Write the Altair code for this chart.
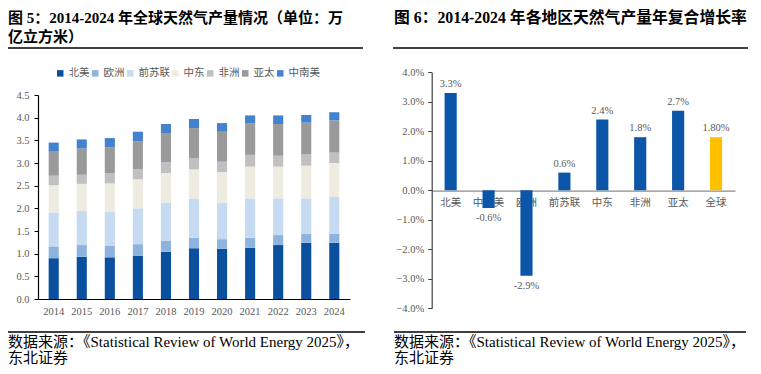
import altair as alt
import pandas as pd

# ---------------- data ----------------
years = ["2014", "2015", "2016", "2017", "2018", "2019", "2020", "2021", "2022", "2023", "2024"]
regions = ["北美", "欧洲", "前苏联", "中东", "非洲", "亚太", "中南美"]
north_america = [0.90, 0.93, 0.92, 0.95, 1.04, 1.12, 1.11, 1.13, 1.19, 1.24, 1.24]
europe = [0.26, 0.26, 0.26, 0.26, 0.25, 0.23, 0.21, 0.22, 0.22, 0.20, 0.20]
cis = [0.75, 0.75, 0.75, 0.79, 0.84, 0.86, 0.81, 0.87, 0.81, 0.78, 0.81]
middle_east = [0.60, 0.60, 0.62, 0.64, 0.65, 0.65, 0.67, 0.70, 0.70, 0.72, 0.75]
africa = [0.21, 0.20, 0.22, 0.22, 0.24, 0.25, 0.23, 0.26, 0.24, 0.25, 0.23]
asia_pacific = [0.53, 0.58, 0.58, 0.62, 0.64, 0.66, 0.66, 0.69, 0.70, 0.70, 0.71]
latin_america = [0.20, 0.20, 0.20, 0.21, 0.20, 0.20, 0.19, 0.18, 0.19, 0.17, 0.18]
region_colors = ["#0b4f9f", "#8fb3df", "#c6daf1", "#eeece1", "#c0c0c0", "#9a9a9a", "#4282cf"]
y_ticks_left = [0, 0.5, 1.0, 1.5, 2.0, 2.5, 3.0, 3.5, 4.0, 4.5]

cagr_regions = ["北美", "中南美", "欧洲", "前苏联", "中东", "非洲", "亚太", "全球"]
cagr_values = [3.3, -0.6, -2.9, 0.6, 2.4, 1.8, 2.7, 1.8]
cagr_labels = ["3.3%", "-0.6%", "-2.9%", "0.6%", "2.4%", "1.8%", "2.7%", "1.80%"]
y_ticks_right = [-4, -3, -2, -1, 0, 1, 2, 3, 4]

title_left_1 = "图 5：2014-2024 年全球天然气产量情况（单位：万"
title_left_2 = "亿立方米）"
title_right = "图 6：2014-2024 年各地区天然气产量年复合增长率"
source_1 = "数据来源：《Statistical Review of World Energy 2025》，"
source_2 = "东北证券"

# ---------------- tables ----------------
series = [north_america, europe, cis, middle_east, africa, asia_pacific, latin_america]
rows = []
for i, (reg, vals) in enumerate(zip(regions, series)):
    for y, v in zip(years, vals):
        rows.append({"year": y, "region": reg, "idx": i, "value": v})
df_left = pd.DataFrame(rows)
df_right = pd.DataFrame({"region": cagr_regions, "value": cagr_values, "label": cagr_labels})

SERIF = "'Liberation Serif', 'Noto Sans CJK SC'"
CJK = "'Noto Sans CJK SC'"
GRAY = "#595959"

# ---------------- left panel ----------------
left = alt.Chart(df_left).mark_bar().encode(
    x=alt.X("year:N", sort=years,
            scale=alt.Scale(range=[30, 342], paddingInner=0.64, paddingOuter=0.38),
            axis=alt.Axis(orient="bottom", offset=-67, title=None, labelAngle=0, ticks=False,
                          domainColor="black", domainWidth=1.2, labelFont=SERIF, labelFontSize=10.5,
                          labelColor=GRAY, labelPadding=7)),
    y=alt.Y("value:Q", stack="zero",
            scale=alt.Scale(domain=[0, 4.5], range=[291, 87], nice=False, zero=True),
            axis=alt.Axis(orient="left", offset=-30, title=None, values=y_ticks_left, format=".1f",
                          grid=False, tickSize=4, tickColor="black", domainColor="black",
                          domainWidth=1.2, labelFont=SERIF, labelFontSize=10.5, labelColor=GRAY,
                          labelPadding=5)),
    color=alt.Color("region:N", sort=regions,
                    scale=alt.Scale(domain=regions, range=region_colors),
                    legend=alt.Legend(orient="none", legendX=47, legendY=60, direction="horizontal",
                                      title=None, symbolType="square", symbolSize=42,
                                      symbolStrokeWidth=0, labelFont=CJK, labelFontSize=10.5,
                                      labelColor=GRAY, columnPadding=0, labelOffset=3)),
    order=alt.Order("idx:Q", sort="ascending"),
)

# ---------------- right panel ----------------
xr = alt.X("region:N", sort=cagr_regions,
           scale=alt.Scale(range=[423.7, 727], paddingInner=0.68, paddingOuter=0.34),
           axis=alt.Axis(orient="bottom", offset=-175.3, title=None, labelAngle=0, ticks=False,
                         domainColor="#8c8c8c", domainWidth=1.2, labelFont=CJK, labelFontSize=10.5,
                         labelColor=GRAY, labelPadding=7))
yr = alt.Y("value:Q",
           scale=alt.Scale(domain=[-4, 4], range=[300.3, 64.3], nice=False),
           axis=alt.Axis(orient="left", offset=-423.7, title=None, values=y_ticks_right,
                         labelExpr="format(datum.value, '.1f') + '%'", grid=False, tickSize=4,
                         tickColor="#404040", domainColor="#404040", domainWidth=1.2,
                         labelFont=SERIF, labelFontSize=10.5, labelColor=GRAY, labelPadding=4))

right_bars = alt.Chart(df_right).mark_bar().encode(
    x=xr, y=yr,
    color=alt.condition(alt.datum.region == "全球", alt.value("#ffc000"), alt.value("#0b56a9")),
)
right_pos = alt.Chart(df_right).transform_filter(alt.datum.value >= 0).mark_text(
    baseline="bottom", dy=-4, font=SERIF, fontSize=10.5, color=GRAY
).encode(x=xr, y=yr, text="label:N")
right_neg = alt.Chart(df_right).transform_filter(alt.datum.value < 0).mark_text(
    baseline="top", dy=5, font=SERIF, fontSize=10.5, color=GRAY
).encode(x=xr, y=yr, text="label:N")
right = alt.layer(right_bars, right_pos, right_neg)

# ---------------- decorations ----------------
one = alt.Data(values=[{}])


def txt(s, x, y, size, bold=False):
    return alt.Chart(one).mark_text(
        align="left", baseline="middle", fontSize=size,
        fontWeight="bold" if bold else "normal", font=SERIF, color="black"
    ).encode(x=alt.value(x), y=alt.value(y), text=alt.value(s))


def hline(x1, x2, y):
    return alt.Chart(one).mark_rule(color="black", strokeWidth=1.5).encode(
        x=alt.value(x1), x2=alt.value(x2), y=alt.value(y))


decor = [
    txt(title_left_1, 0, 10, 15, True),
    txt(title_left_2, 0, 29, 15, True),
    txt(title_right, 386, 10, 15.8, True),
    hline(0, 355, 40),
    hline(385, 740, 40),
    hline(0, 357, 324),
    hline(386, 738, 324),
    txt(source_1, 0, 334, 15),
    txt(source_2, 0, 350, 15),
    txt(source_1, 386, 334, 15),
    txt(source_2, 386, 350, 15),
]

chart = alt.layer(left, right, *decor).resolve_scale(
    x="independent", y="independent", color="independent"
).properties(
    width=745, height=358, padding=0,
    autosize=alt.AutoSizeParams(type="none"),
    background="white",
).configure_view(stroke=None)

chart.save("out.html", embed_options={"renderer": "svg", "actions": False})
